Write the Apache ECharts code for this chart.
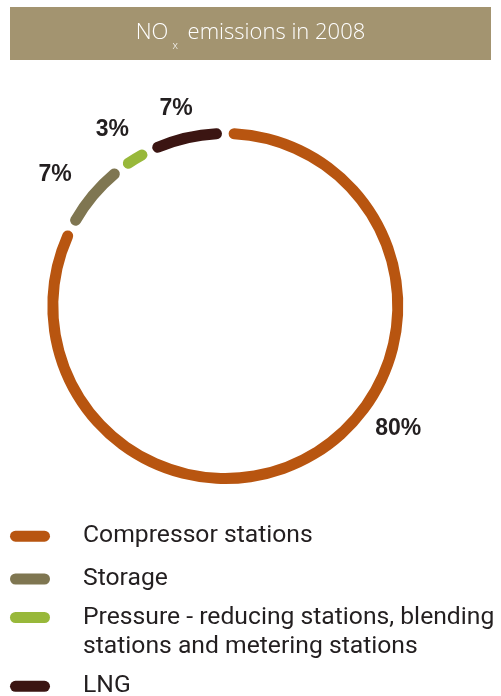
<!DOCTYPE html>
<html><head><meta charset="utf-8">
<script src="https://cdn.jsdelivr.net/npm/echarts@6/dist/echarts.min.js"></script>
<style>html,body{margin:0;padding:0;background:#fff}#c{width:501px;height:696px}</style>
</head><body><div id="c"></div>
<script>
const categories = ['Compressor stations', 'Storage', 'Pressure - reducing stations, blending stations and metering stations', 'LNG'];
const values = [80, 7, 3, 7];
const colors = ['#b85510', '#7f7651', '#98b83a', '#3b1512'];
const titleMain = 'NO';
const titleSub = 'x';
const titleRest = ' emissions in 2008';

const textColor = '#231f20';
const legendFont = 'Roboto';
const data = categories.map((n, i) => ({ name: n, value: values[i], itemStyle: { color: colors[i] } }));
const legendTops = [521.7, 564.5, 574, 671.8];
const labelShift = [[61, -60], [-6, 6], [-1, 6], [-1, 11]];

const chart = echarts.init(document.getElementById('c'), null, { renderer: 'canvas' });
chart.setOption({
  animation: false,
  backgroundColor: '#fff',
  graphic: [{ type: 'rect', shape: { x: 10, y: 7, width: 481, height: 53 }, style: { fill: '#a39470' }, z: -1, silent: true }],
  title: {
    left: 'center', top: 14, padding: 0,
    text: '{n|' + titleMain + '}{s|' + titleSub + '}{n|' + titleRest + '}',
    textStyle: {
      rich: {
        n: { fontSize: 22, fontFamily: 'Open Sans', fontWeight: 300, color: '#fff', lineHeight: 37 },
        s: { fontSize: 11, fontFamily: 'Open Sans', fontWeight: 300, color: '#fff', lineHeight: 11, verticalAlign: 'bottom', padding: [0, 4, 0, 4] }
      }
    }
  },
  legend: categories.map((name, i) => ({
    left: 10, top: legendTops[i], padding: 0, orient: 'vertical', selectedMode: false,
    data: [name],
    icon: 'path://M5.5,0H34.5A5.5,5.5,0,0,1,34.5,11H5.5A5.5,5.5,0,0,1,5.5,0Z',
    itemWidth: 40, itemHeight: 11,
    formatter: n => (n.indexOf('blending ') >= 0 ? '\n' + n.replace('blending ', 'blending\n') : n),
    textStyle: {
      fontFamily: legendFont, fontSize: 24.7, color: textColor, lineHeight: 29,
      padding: [0, 0, 0, 28]
    }
  })),
  series: [
    {
      type: 'pie', center: [225.3, 306], radius: [167, 178], startAngle: 90, clockwise: true,
      padAngle: 2.2, silent: true, emphasis: { disabled: true },
      itemStyle: { borderRadius: 5.5 },
      label: { show: false }, labelLine: { show: false },
      data: data
    },
    {
      type: 'pie', center: [225.3, 306], radius: [200, 222], startAngle: 90, clockwise: true,
      padAngle: 2.2, silent: true, emphasis: { disabled: true },
      itemStyle: { color: 'rgba(0,0,0,0)' },
      label: { show: true, position: 'inside', formatter: '{c}%', fontFamily: 'Liberation Sans', fontWeight: 'bold', fontSize: 23, color: textColor },
      labelLine: { show: false },
      labelLayout: p => ({ dx: labelShift[p.dataIndex][0], dy: labelShift[p.dataIndex][1] }),
      data: categories.map((n, i) => ({ name: n, value: values[i] }))
    }
  ]
});
</script></body></html>
